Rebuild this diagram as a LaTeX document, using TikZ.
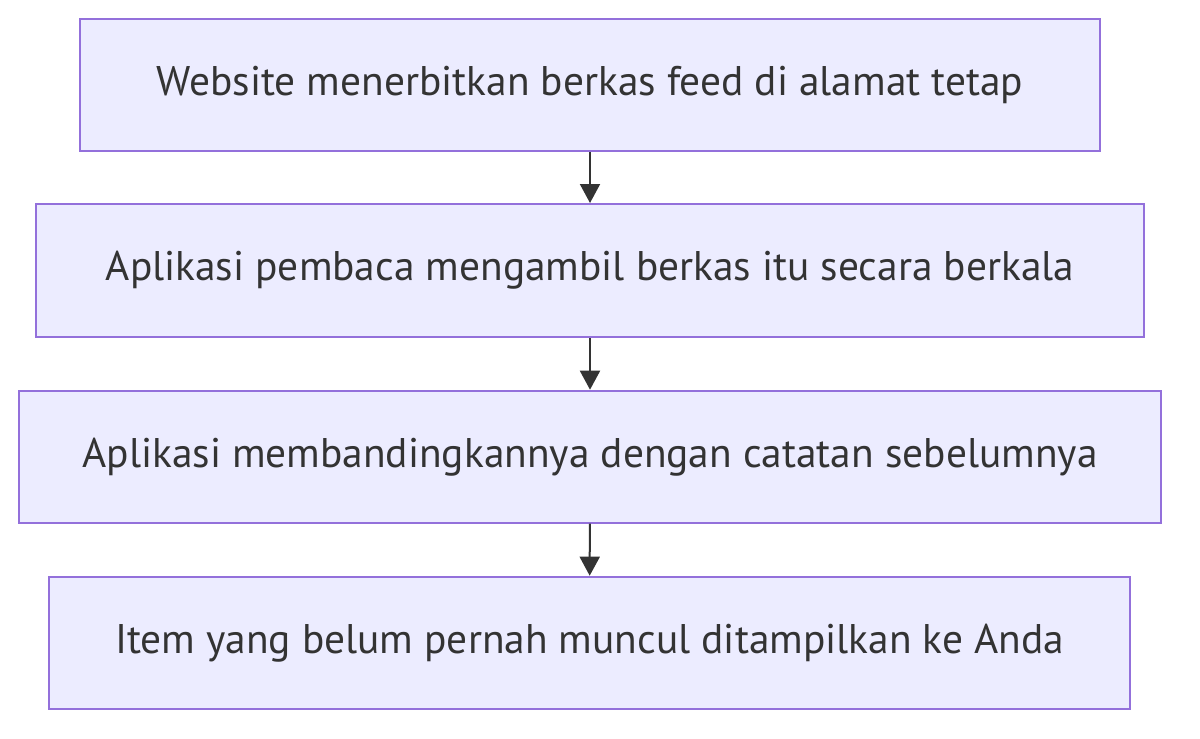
\documentclass[tikz,border=0pt]{standalone}
\usepackage{fontspec}
\setmainfont{PT Sans}
\usetikzlibrary{arrows.meta}
\definecolor{boxfill}{HTML}{ECECFF}
\definecolor{boxline}{HTML}{9370DB}
\definecolor{ink}{HTML}{333333}
\begin{document}
\begin{tikzpicture}[x=0.5pt,y=-0.5pt,
  stepbox/.style={draw=boxline,fill=boxfill,line width=1pt,rectangle,inner sep=0pt,
    text=ink,font=\fontsize{20.7}{24}\selectfont},
  flow/.style={draw=ink,line width=1pt,-{Triangle[length=9.5pt,width=10pt]}}]
\useasboundingbox (0,0) rectangle (1200,739);
\node[stepbox,minimum width=510pt,minimum height=66pt] (a) at (590,85) {Website menerbitkan berkas feed di alamat tetap};
\node[stepbox,minimum width=554pt,minimum height=66.5pt] (b) at (590,270.5) {Aplikasi pembaca mengambil berkas itu secara berkala};
\node[stepbox,minimum width=571pt,minimum height=66pt] (c) at (590,456.7) {Aplikasi membandingkannya dengan catatan sebelumnya};
\node[stepbox,minimum width=540.5pt,minimum height=66pt] (d) at (589.5,642.7) {Item yang belum pernah muncul ditampilkan ke Anda};
\draw[flow] (a) -- (b);
\draw[flow] (b) -- (c);
\draw[flow] (c) -- (d);
\end{tikzpicture}
\end{document}
